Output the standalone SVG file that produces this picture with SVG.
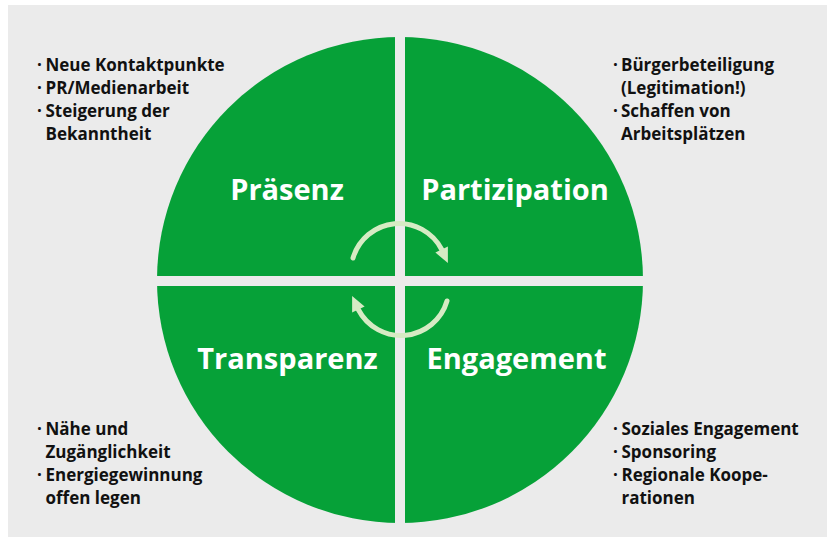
<svg xmlns="http://www.w3.org/2000/svg" width="829" height="542" viewBox="0 0 829 542">
<style>
.q{fill:#06a138}
.h{font-family:"Open Sans","Liberation Sans",sans-serif;font-weight:bold;font-size:29px;fill:#ffffff;text-anchor:middle}
.b{font-family:"Open Sans","Liberation Sans",sans-serif;font-weight:bold;font-size:17px;fill:#111111}
.arc{fill:none;stroke:#d6ebc4;stroke-width:5;stroke-linecap:round}
.ah{fill:#d6ebc4}
</style>
<rect x="0" y="0" width="829" height="542" fill="#ffffff"/>
<rect x="8" y="5" width="819" height="532" fill="#ebebeb"/>
<g id="circle">
<circle class="q" cx="400" cy="280" r="243"/>
<rect x="395" y="30" width="10" height="500" fill="#ebebeb"/>
<rect x="150" y="276" width="500" height="10" fill="#ebebeb"/>
</g>
<g id="praesenz">
<text class="h" x="287" y="200">Präsenz</text>
<text class="b"><tspan x="37" y="71">·</tspan><tspan x="45.5" y="71">Neue Kontaktpunkte</tspan><tspan x="37" y="94">·</tspan><tspan x="45.5" y="94">PR/Medienarbeit</tspan><tspan x="37" y="117">·</tspan><tspan x="45.5" y="117">Steigerung der</tspan><tspan x="45.5" y="140">Bekanntheit</tspan></text>
</g>
<g id="partizipation">
<text class="h" x="515" y="200">Partizipation</text>
<text class="b"><tspan x="613" y="71">·</tspan><tspan x="621" y="71">Bürgerbeteiligung</tspan><tspan x="621" y="94">(Legitimation!)</tspan><tspan x="613" y="117">·</tspan><tspan x="621" y="117">Schaffen von</tspan><tspan x="621" y="140">Arbeitsplätzen</tspan></text>
</g>
<g id="transparenz">
<text class="h" x="287.5" y="369">Transparenz</text>
<text class="b"><tspan x="37" y="435">·</tspan><tspan x="45.5" y="435">Nähe und</tspan><tspan x="45.5" y="458">Zugänglichkeit</tspan><tspan x="37" y="481">·</tspan><tspan x="45.5" y="481">Energiegewinnung</tspan><tspan x="45.5" y="504">offen legen</tspan></text>
</g>
<g id="engagement">
<text class="h" x="516.5" y="369">Engagement</text>
<text class="b"><tspan x="613" y="435">·</tspan><tspan x="621.5" y="435">Soziales Engagement</tspan><tspan x="613" y="458">·</tspan><tspan x="621.5" y="458">Sponsoring</tspan><tspan x="613" y="481">·</tspan><tspan x="621.5" y="481">Regionale Koope-</tspan><tspan x="621.5" y="504">rationen</tspan></text>
</g>
<g id="connectors">
<path class="arc" d="M353,258 A48,48 0 0 1 441.7,249.5"/>
<polygon class="ah" points="447.9,246.4 435.4,252.6 447.9,263"/>
<path class="arc" d="M447,301 A48,48 0 0 1 358.3,309.5"/>
<polygon class="ah" points="352.1,312.6 364.6,306.4 352.1,296"/>
</g>
</svg>
